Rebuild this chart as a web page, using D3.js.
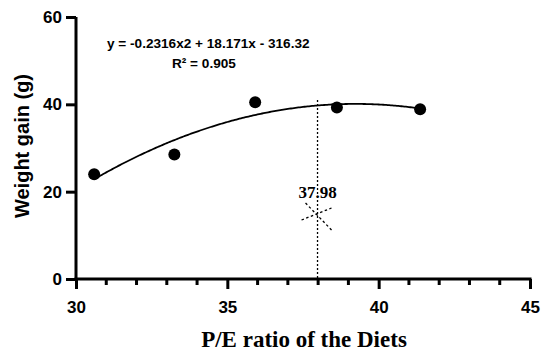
<!DOCTYPE html>
<html><head><meta charset="utf-8">
<script src="https://cdn.jsdelivr.net/npm/d3@7"></script>
<style>body{margin:0;background:#fff}</style>
</head><body>
<svg id="c" width="550" height="360"></svg>
<script>
const pointX = [30.6, 33.25, 35.92, 38.62, 41.37];
const pointY = [24.0, 28.5, 40.5, 39.3, 38.9];
const coef = [-0.2316, 18.171, -316.32];
const xTicks = [30, 35, 40, 45];
const yTicks = [0, 20, 40, 60];
const optimumX = 37.98;
const optimumLabel = "37.98";
const equationText = "y = -0.2316x2 + 18.171x - 316.32";
const r2Text = "R² = 0.905";

const svg = d3.select("#c");
const x = d3.scaleLinear().domain([30, 45]).range([76, 530]);
const y = d3.scaleLinear().domain([0, 60]).range([279, 17]);
const sans = "Arial, 'Liberation Sans', sans-serif";
const serif = "'Times New Roman', 'Liberation Serif', serif";

// axes
const xAxis = d3.axisBottom(x).tickValues(xTicks).tickSize(10).tickFormat(d3.format("d"));
const gx = svg.append("g").attr("transform", "translate(0,279)").call(xAxis);
gx.select(".domain").attr("stroke-width", 3).attr("d", `M${x(30)-1.5},0H${x(45)+1.5}`);
gx.selectAll(".tick line").attr("stroke-width", 3);
gx.selectAll(".tick text").attr("dy", null).attr("y", 34)
  .style("font-family", sans).style("font-weight", "bold").style("font-size", "17px");
const minor = d3.range(31, 45).filter(v => v % 5 !== 0);
gx.selectAll(".minor").data(minor).enter().append("line")
  .attr("x1", d => x(d)).attr("x2", d => x(d)).attr("y1", 0).attr("y2", 6)
  .attr("stroke", "#000").attr("stroke-width", 3);

const yAxis = d3.axisLeft(y).tickValues(yTicks).tickSize(10);
const gy = svg.append("g").attr("transform", `translate(${x(30)},0)`).call(yAxis);
gy.select(".domain").attr("stroke-width", 3).attr("d", `M0,${y(60)}V${y(0)+1.5}`);
gy.selectAll(".tick line").attr("stroke-width", 3);
gy.selectAll(".tick text").attr("x", -14)
  .style("font-family", sans).style("font-weight", "bold").style("font-size", "17px");

// fitted curve
const fx = v => coef[0]*v*v + coef[1]*v + coef[2];
const xs = d3.range(pointX[0], pointX[pointX.length-1] + 0.001, 0.05);
svg.append("path").datum(xs)
  .attr("d", d3.line().x(d => x(d)).y(d => y(fx(d))))
  .attr("fill", "none").attr("stroke", "#000").attr("stroke-width", 1.8);

// points
svg.selectAll(".pt").data(pointX).enter().append("circle")
  .attr("cx", d => x(d)).attr("cy", (d, i) => y(pointY[i])).attr("r", 6).attr("fill", "#000");

// optimum dashed line
svg.append("line").attr("x1", x(optimumX)).attr("x2", x(optimumX))
  .attr("y1", y(41)).attr("y2", y(0))
  .attr("stroke", "#000").attr("stroke-width", 1.3).attr("stroke-dasharray", "2,2");

// label
svg.append("text").attr("x", x(optimumX)).attr("y", 198).attr("text-anchor", "middle")
  .style("font-family", serif).style("font-weight", "bold").style("font-size", "17px")
  .text(optimumLabel);

// dashed star
const cx = x(optimumX) - 1, cy = 215;
[[-11, -12, 15, 15], [-15, 5, 15, -7]].forEach(s => {
  svg.append("line").attr("x1", cx + s[0]).attr("y1", cy + s[1]).attr("x2", cx + s[2]).attr("y2", cy + s[3])
    .attr("stroke", "#000").attr("stroke-width", 1.3).attr("stroke-dasharray", "2.5,2.5");
});

// equation
svg.append("text").attr("x", 107).attr("y", 47.5)
  .style("font-family", sans).style("font-weight", "bold").style("font-size", "13.6px")
  .text(equationText);
svg.append("text").attr("x", 172).attr("y", 67.5)
  .style("font-family", sans).style("font-weight", "bold").style("font-size", "13.6px")
  .text(r2Text);

// axis titles
svg.append("text").attr("transform", "translate(28.5,146) rotate(-90)").attr("text-anchor", "middle")
  .style("font-family", sans).style("font-weight", "bold").style("font-size", "20px")
  .text("Weight gain (g)");
svg.append("text").attr("x", 304).attr("y", 347).attr("text-anchor", "middle")
  .style("font-family", serif).style("font-weight", "bold").style("font-size", "23px")
  .text("P/E ratio of the Diets");
</script>
</body></html>
